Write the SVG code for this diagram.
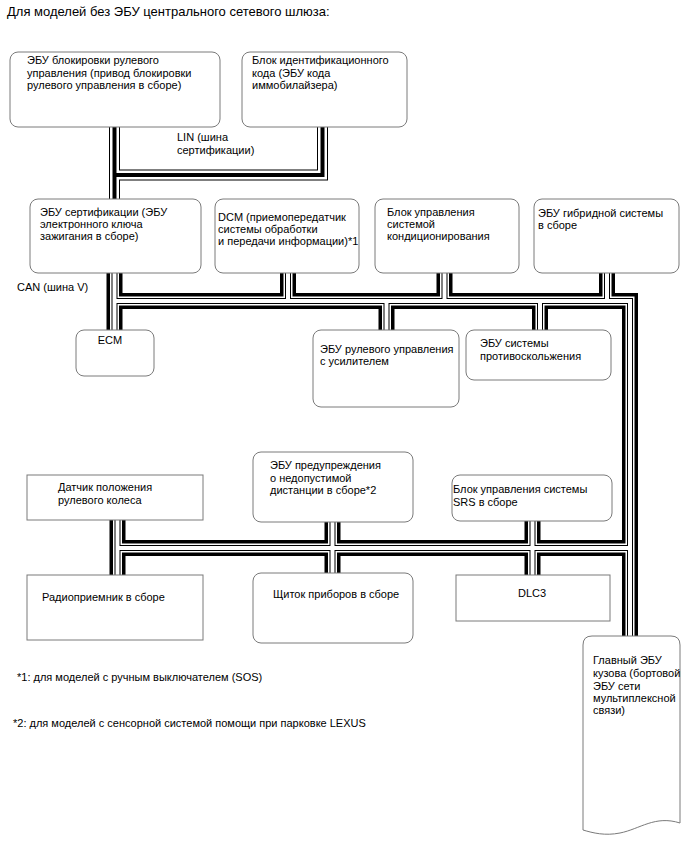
<svg xmlns="http://www.w3.org/2000/svg" xmlns:xlink="http://www.w3.org/1999/xlink" width="688" height="852" viewBox="0 0 688 852">
<style>
.box{fill:#fff;stroke:#7a7a7a;stroke-width:1}
text{font-family:"Liberation Sans",Arial,sans-serif;font-size:11px;fill:#000}
.title{font-size:13px}
.w{fill:none;stroke-linejoin:miter;stroke-linecap:butt}
.lin1{stroke:#000;stroke-width:11}
.lin2{stroke:#fff;stroke-width:9}
.lin3{stroke:#000;stroke-width:4}
.can1{stroke:#000;stroke-width:16}
.can2{stroke:#fff;stroke-width:9}
.can3{stroke:#000;stroke-width:6}
.can4{stroke:#fff;stroke-width:4}
</style>
<defs>
<path id="lin" d="M114.5,127 V199 M322.5,127 V175 H114.5"/>
<path id="can" d="M114.5,273 V330 M114.5,301 H630 V636 M288,273 V301 M444.5,273 V301 M607,273 V301 M386.5,301 V330 M540,301 V330 M117.5,520 V575 M117.5,548 H630 M332.5,522 V573 M532.5,521 V575"/>
</defs>
<rect width="688" height="852" fill="#fff"/>
<text class="title" x="7" y="16">Для моделей без ЭБУ центрального сетевого шлюза:</text>
<g id="connectors">
<use xlink:href="#lin" class="w lin1"/>
<use xlink:href="#lin" class="w lin2"/>
<use xlink:href="#lin" class="w lin3"/>
<use xlink:href="#can" class="w can1"/>
<use xlink:href="#can" class="w can2"/>
<use xlink:href="#can" class="w can3"/>
<use xlink:href="#can" class="w can4"/>
<text x="177" y="141">LIN (шина</text>
<text x="177" y="154">сертификации)</text>
<text x="17" y="291">CAN (шина V)</text>
</g>
<g id="steering-lock">
<rect class="box" x="10" y="52" width="210" height="75" rx="8"/>
<text x="27" y="64">ЭБУ блокировки рулевого</text>
<text x="27" y="77">управления (привод блокировки</text>
<text x="27" y="89">рулевого управления в сборе)</text>
</g>
<g id="immobilizer">
<rect class="box" x="242" y="52" width="165" height="75" rx="8"/>
<text x="252" y="64">Блок идентификационного</text>
<text x="252" y="77">кода (ЭБУ кода</text>
<text x="252" y="89">иммобилайзера)</text>
</g>
<g id="certification">
<rect class="box" x="30" y="199" width="171" height="74" rx="8"/>
<text x="40" y="216">ЭБУ сертификации (ЭБУ</text>
<text x="40" y="228">электронного ключа</text>
<text x="40" y="240">зажигания в сборе)</text>
</g>
<g id="dcm">
<rect class="box" x="215" y="199" width="144" height="74" rx="8"/>
<text x="218" y="221">DCM (приемопередатчик</text>
<text x="218" y="233">системы обработки</text>
<text x="218" y="245">и передачи информации)*1</text>
</g>
<g id="ac">
<rect class="box" x="375" y="199" width="144" height="74" rx="8"/>
<text x="387" y="216">Блок управления</text>
<text x="387" y="228">системой</text>
<text x="387" y="240">кондиционирования</text>
</g>
<g id="hybrid">
<rect class="box" x="534" y="199" width="145" height="74" rx="8"/>
<text x="538" y="217">ЭБУ гибридной системы</text>
<text x="538" y="229">в сборе</text>
</g>
<g id="ecm">
<rect class="box" x="76" y="330" width="78" height="46" rx="8"/>
<text x="110" y="344" text-anchor="middle">ECM</text>
</g>
<g id="eps">
<rect class="box" x="313" y="330" width="146" height="77" rx="8"/>
<text x="320" y="353">ЭБУ рулевого управления</text>
<text x="320" y="365">с усилителем</text>
</g>
<g id="antislip">
<rect class="box" x="466" y="330" width="145" height="50" rx="8"/>
<text x="480" y="347">ЭБУ системы</text>
<text x="480" y="360">противоскольжения</text>
</g>
<g id="steering-sensor">
<rect class="box" x="27" y="475" width="176" height="45"/>
<text x="58" y="491">Датчик положения</text>
<text x="58" y="504">рулевого колеса</text>
</g>
<g id="distance">
<rect class="box" x="253" y="452" width="160" height="70" rx="8"/>
<text x="270" y="469">ЭБУ предупреждения</text>
<text x="270" y="482">о недопустимой</text>
<text x="270" y="494">дистанции в сборе*2</text>
</g>
<g id="srs">
<rect class="box" x="452" y="475" width="160" height="46" rx="8"/>
<text x="453" y="493">Блок управления системы</text>
<text x="453" y="506">SRS в сборе</text>
</g>
<g id="radio">
<rect class="box" x="27" y="575" width="176" height="65"/>
<text x="42" y="601">Радиоприемник в сборе</text>
</g>
<g id="cluster">
<rect class="box" x="253" y="573" width="160" height="70" rx="8"/>
<text x="273" y="598">Щиток приборов в сборе</text>
</g>
<g id="dlc3">
<rect class="box" x="456" y="575" width="154" height="46"/>
<text x="532" y="597" text-anchor="middle">DLC3</text>
</g>
<g id="body-ecu">
<path class="box" d="M583,830 V645 Q583,636 592,636 H671 Q680,636 680,645 V823 C655,815 640,829 620,833 C605,836 593,833 583,830 Z"/>
<text x="593" y="664">Главный ЭБУ</text>
<text x="593" y="677">кузова (бортовой</text>
<text x="593" y="690">ЭБУ сети</text>
<text x="593" y="702">мультиплексной</text>
<text x="593" y="714">связи)</text>
</g>
<text x="17" y="681">*1: для моделей с ручным выключателем (SOS)</text>
<text x="13" y="727">*2: для моделей с сенсорной системой помощи при парковке LEXUS</text>
</svg>
